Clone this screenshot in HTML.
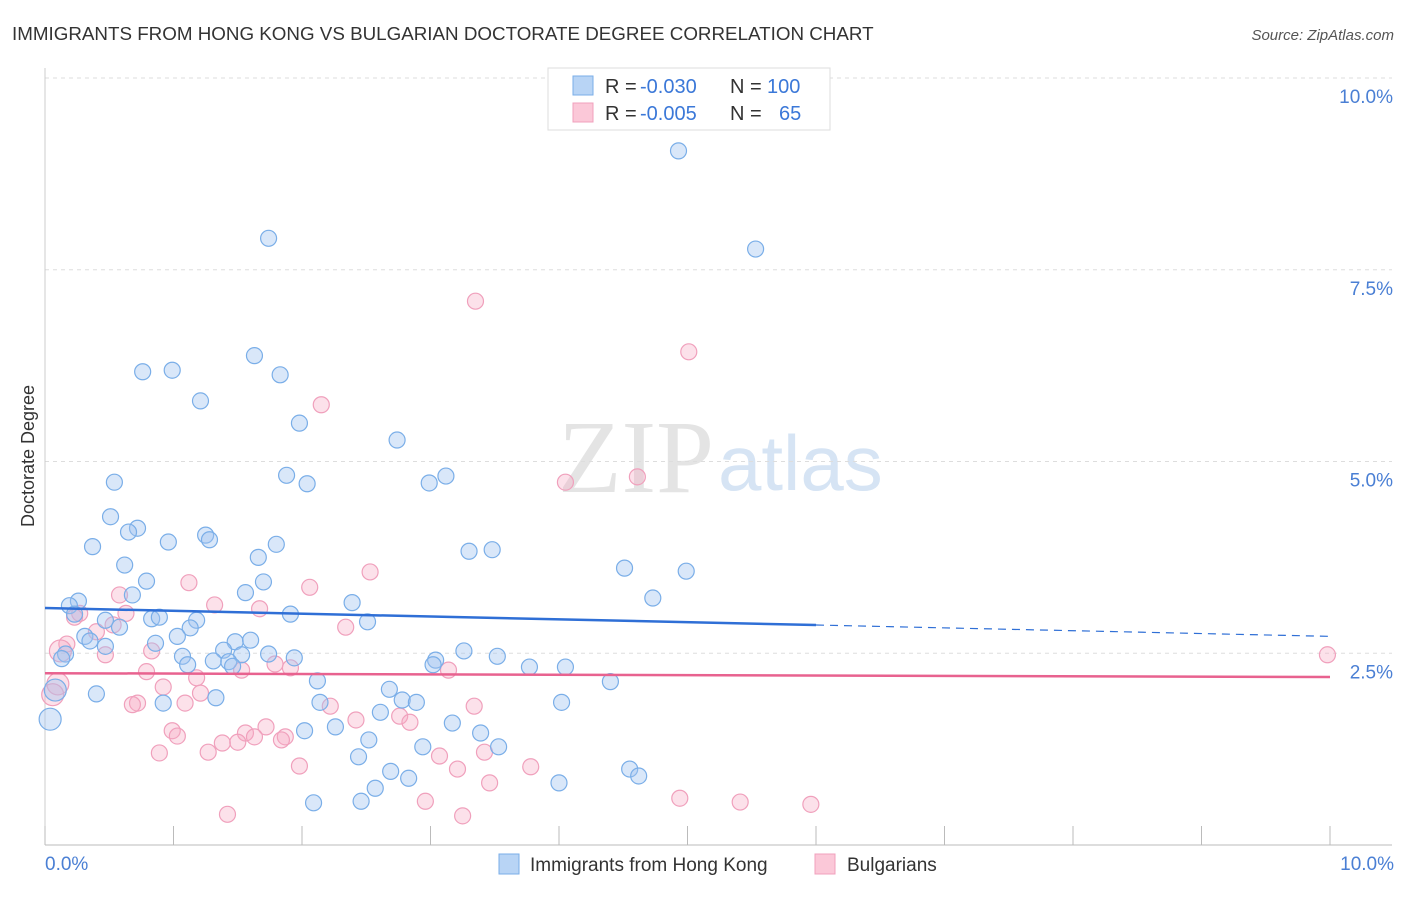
<!DOCTYPE html>
<html><head><meta charset="utf-8"><style>
body{margin:0;background:#fff;font-family:"Liberation Sans",sans-serif;}
</style></head><body>
<svg id="chart" width="1406" height="892" xmlns="http://www.w3.org/2000/svg" style="font-family:'Liberation Sans',sans-serif">
<text x="12" y="40" font-size="18.8" fill="#333">IMMIGRANTS FROM HONG KONG VS BULGARIAN DOCTORATE DEGREE CORRELATION CHART</text>
<text x="1394" y="40" font-size="15" fill="#555" font-style="italic" text-anchor="end">Source: ZipAtlas.com</text>
<text x="714" y="492" font-size="104" fill="#e4e4e4" text-anchor="end" font-family="Liberation Serif">ZIP</text>
<text x="718" y="490" font-size="78" fill="#d6e4f4">atlas</text>
<text x="34" y="456" font-size="18" fill="#333" text-anchor="middle" transform="rotate(-90 34 456)">Doctorate Degree</text>
<g id="grid"></g><g id="pts"></g><g id="lines"></g>
<g font-size="20">
<rect x="548" y="68" width="282" height="62" fill="#fff" stroke="#ddd"/>
<rect x="573" y="76" width="20" height="19" fill="#b8d4f5" stroke="#7aaee8"/>
<rect x="573" y="103" width="20" height="19" fill="#fbc8d8" stroke="#f0a0bc"/>
<text x="605" y="93" fill="#333">R =</text><text x="640" y="93" fill="#3b78d8">-0.030</text>
<text x="730" y="93" fill="#333">N =</text><text x="767" y="93" fill="#3b78d8">100</text>
<text x="605" y="120" fill="#333">R =</text><text x="640" y="120" fill="#3b78d8">-0.005</text>
<text x="730" y="120" fill="#333">N =</text><text x="779" y="120" fill="#3b78d8">65</text>
</g>
<g>
<rect x="499" y="854" width="20" height="20" fill="#b8d4f5" stroke="#7aaee8"/>
<text x="530" y="871" font-size="19" fill="#333">Immigrants from Hong Kong</text>
<rect x="815" y="854" width="20" height="20" fill="#fbc8d8" stroke="#f0a0bc"/>
<text x="847" y="871" font-size="19" fill="#333">Bulgarians</text>
</g>
</svg>
<script>
const yTicks=[2.5,5,7.5,10];
const yTickLabels=["2.5%","5.0%","7.5%","10.0%"];
const xTickVals=[0,1,2,3,4,5,6,7,8,9,10];
const blueX=[4.93,1.74,5.53,1.63,0.76,0.99,1.83,1.21,1.98,2.74,1.88,2.04,3.12,2.99,0.54,0.51,0.72,0.65,1.25,1.28,0.96,0.37,1.80,1.66,3.30,3.48,0.62,4.51,4.99,0.79,1.70,1.56,0.68,4.73,2.39,0.26,0.19,1.91,0.23,0.83,0.89,1.18,2.51,0.47,0.58,1.13,1.03,0.31,0.35,0.47,1.48,1.60,0.86,1.39,1.53,1.74,3.26,3.52,1.07,1.11,1.31,1.43,1.94,1.46,0.16,0.13,3.04,3.02,3.77,4.05,2.12,4.40,0.08,2.68,0.40,1.33,0.92,2.78,2.89,2.14,4.02,2.61,0.04,3.17,2.26,2.02,3.39,2.52,2.94,3.53,2.44,4.55,2.69,4.62,2.83,2.57,4.00,2.09,2.46];
const blueY=[9.05,7.91,7.77,6.38,6.17,6.19,6.13,5.79,5.50,5.28,4.82,4.71,4.81,4.72,4.73,4.28,4.13,4.08,4.04,3.98,3.95,3.89,3.92,3.75,3.83,3.85,3.65,3.61,3.57,3.44,3.43,3.29,3.26,3.22,3.16,3.18,3.12,3.01,3.01,2.95,2.97,2.93,2.91,2.93,2.84,2.83,2.72,2.72,2.66,2.59,2.65,2.67,2.63,2.54,2.48,2.49,2.53,2.46,2.46,2.35,2.40,2.39,2.44,2.33,2.49,2.43,2.41,2.35,2.32,2.32,2.14,2.13,2.02,2.03,1.97,1.92,1.85,1.89,1.86,1.86,1.86,1.73,1.64,1.59,1.54,1.49,1.46,1.37,1.28,1.28,1.15,0.99,0.96,0.90,0.87,0.74,0.81,0.55,0.57];
const pinkX=[3.35,5.01,2.15,4.05,4.61,2.53,2.06,1.12,0.58,1.32,1.67,0.27,0.63,0.23,0.53,0.40,2.34,0.17,0.12,0.47,0.83,1.79,1.91,1.53,0.79,3.14,1.18,0.10,0.92,1.21,0.06,0.72,0.68,1.09,2.22,3.34,2.42,2.76,2.84,1.72,1.56,0.99,1.03,1.63,1.87,1.84,1.38,1.50,1.27,0.89,3.42,3.07,1.98,3.21,3.78,3.46,9.98,4.94,5.41,5.96,2.96,1.42,3.25];
const pinkY=[7.09,6.43,5.74,4.73,4.80,3.56,3.36,3.42,3.26,3.13,3.08,3.02,3.02,2.97,2.87,2.78,2.84,2.62,2.53,2.48,2.53,2.36,2.31,2.28,2.26,2.28,2.18,2.10,2.06,1.98,1.96,1.85,1.83,1.85,1.81,1.81,1.63,1.68,1.60,1.54,1.46,1.49,1.42,1.41,1.41,1.37,1.33,1.34,1.21,1.20,1.21,1.16,1.03,0.99,1.02,0.81,2.48,0.61,0.56,0.53,0.57,0.40,0.38];
const blueTrend=[3.09,2.72];
const pinkTrend=[2.24,2.19];
const X=v=>45+v*128.5, Y=v=>845-v*76.7;
const NS="http://www.w3.org/2000/svg";
function mk(t,a,p){const e=document.createElementNS(NS,t);for(const k in a)e.setAttribute(k,a[k]);p.appendChild(e);return e;}
const g=document.getElementById('grid');
yTicks.forEach((v,i)=>{
 const l=mk('line',{x1:45,x2:1392,y1:Y(v),y2:Y(v),stroke:'#ddd','stroke-dasharray':'4 4'},g);
 
 
 const t=mk('text',{x:1393,y:Y(v)+25,'font-size':19,fill:'#4a7fd4','text-anchor':'end'},g);
 t.textContent=yTickLabels[i];
 
 
});
const ax=mk('line',{x1:45,x2:1392,y1:845,y2:845,stroke:'#bbb'},g);


const ay=mk('line',{x1:45,x2:45,y1:68,y2:845,stroke:'#ccc'},g);


xTickVals.forEach(v=>{
 const l=mk('line',{x1:X(v),x2:X(v),y1:826,y2:845,stroke:'#bbb'},g);
 
 
});
[[0,'0.0%','start',45],[10,'10.0%','end',1394]].forEach(a=>{
 const t=mk('text',{x:a[3],y:870,'font-size':19,fill:'#4a7fd4','text-anchor':a[2]},g);
 t.textContent=a[1];
 
 
});
const p=document.getElementById('pts');
pinkX.forEach((x,i)=>{
 const c=mk('circle',{cx:X(x),cy:Y(pinkY[i]),r:(x<0.15?11:8),fill:'rgba(246,170,196,0.35)',stroke:'#f0a0bc','stroke-width':1.2},p);
 
 
});
blueX.forEach((x,i)=>{
 const c=mk('circle',{cx:X(x),cy:Y(blueY[i]),r:(x<0.1?11:8),fill:'rgba(160,196,240,0.4)',stroke:'#7aaee8','stroke-width':1.2},p);
 
 
});
const L=document.getElementById('lines');
const bAt=v=>blueTrend[0]+(blueTrend[1]-blueTrend[0])*v/10;
let e=mk('line',{x1:X(0),y1:Y(bAt(0)),x2:X(6),y2:Y(bAt(6)),stroke:'#2f6fd6','stroke-width':2.5},L);


e=mk('line',{x1:X(6),y1:Y(bAt(6)),x2:X(10),y2:Y(bAt(10)),stroke:'#2f6fd6','stroke-width':1.2,'stroke-dasharray':'8 6'},L);


e=mk('line',{x1:X(0),y1:Y(pinkTrend[0]),x2:X(10),y2:Y(pinkTrend[1]),stroke:'#e8628f','stroke-width':2.5},L);


</script>
</body></html>
